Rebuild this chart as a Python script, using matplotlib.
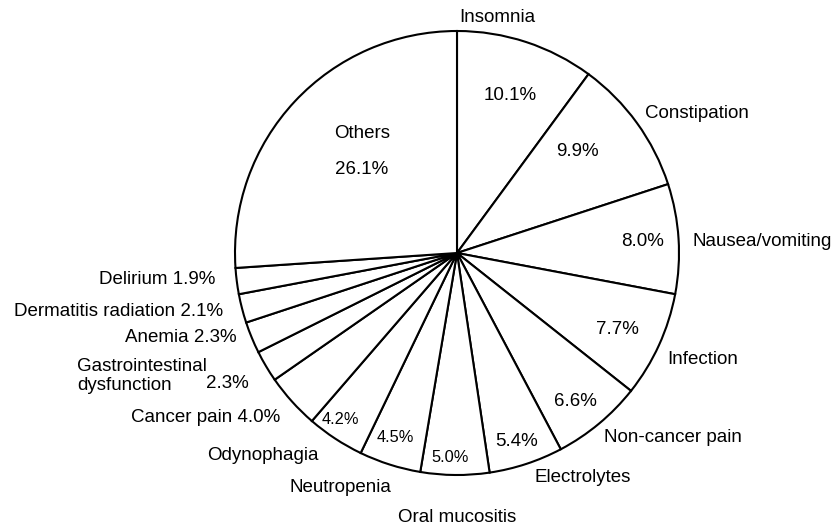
import matplotlib.pyplot as plt

plt.rcParams['font.family'] = ['Liberation Sans', 'DejaVu Sans']

names = ['Insomnia', 'Constipation', 'Nausea/vomiting', 'Infection', 'Non-cancer pain',
         'Electrolytes', 'Oral mucositis', 'Neutropenia', 'Odynophagia', 'Cancer pain',
         'Gastrointestinal\ndysfunction', 'Anemia', 'Dermatitis radiation', 'Delirium', 'Others']
values = [10.1, 9.9, 8.0, 7.7, 6.6, 5.4, 5.0, 4.5, 4.2, 4.0, 2.3, 2.3, 2.1, 1.9, 26.1]

W, H = 832, 528
fig = plt.figure(figsize=(W / 100, H / 100), dpi=100)
ax = fig.add_axes([0, 0, 1, 1])

ax.pie(values, startangle=90, counterclock=False, center=(457, H - 253), radius=222,
       colors=['white'] * len(values),
       wedgeprops=dict(edgecolor='black', linewidth=1.5))
ax.set_xlim(0, W)
ax.set_ylim(0, H)
ax.set_aspect('equal')
ax.axis('off')

# label layout in pixel coordinates (x, y from top): name position, percent position
name_pos = [(497, 18), (697, 113), (762, 242), (703, 359), (673, 437),
            (583, 478), (457, 517), (340, 487), (263, 455), None,
            (77, 376), None, None, None, (362, 133)]
pct_pos = [(510, 95), (577, 152), (643, 242), (617, 329), (575, 402),
           (517, 442), (450, 458), (395, 438), (340, 420), None,
           (227, 383), None, None, None, (362, 170)]
small = {6, 7, 8}
# combined "name pct" labels right-aligned at x
combined_pos = {9: (280, 418), 11: (237, 338), 12: (223, 312), 13: (215, 279)}

fs = 13.5
for i, (n, v) in enumerate(zip(names, values)):
    pct = f'{v:.1f}%'
    if i in combined_pos:
        x, y = combined_pos[i]
        ax.text(x, H - y, f'{n} {pct}', ha='right', va='center', fontsize=fs)
        continue
    x, y = name_pos[i]
    ha = 'left' if i == 10 else 'center'
    ax.text(x, H - y, n, ha=ha, va='center', fontsize=fs, linespacing=1.15)
    x, y = pct_pos[i]
    ax.text(x, H - y, pct, ha='center', va='center', fontsize=11.8 if i in small else fs)

fig.savefig('out.png', dpi=100)
